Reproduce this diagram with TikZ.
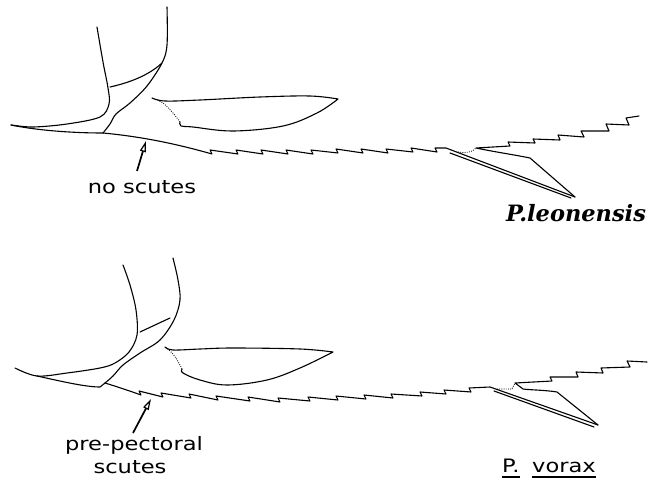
\documentclass[tikz,border=0pt]{standalone}
\usepackage{fontspec}
\newfontfamily\labelfont[FakeStretch=1.22]{DejaVu Sans}
\newfontfamily\speciesfont{DejaVu Serif}
\usetikzlibrary{arrows.meta}
\begin{document}
\begin{tikzpicture}[x=1pt,y=-1pt,
  outline/.style={line width=1.1pt,line join=round,line cap=round},
  finbase/.style={line width=0.8pt,dash pattern=on 0.9pt off 1.3pt},
  labeltext/.style={font=\labelfont\fontsize{18.5}{23}\selectfont,inner sep=0pt},
  speciestext/.style={font=\speciesfont\bfseries\itshape\fontsize{22.5}{26}\selectfont,inner sep=0pt},
  pointer/.style={line width=1.7pt,-{Triangle[open,length=11pt,width=6pt,line width=1.2pt]}},
  underbar/.style={line width=1.4pt}]
\useasboundingbox (0,0) rectangle (660,481);

% ---------------- upper fish: P. leonensis ----------------
% head contour and upper edge of the snout
\draw[outline] plot[smooth,tension=0.55] coordinates
  {(97,27) (103,62) (108,88) (109,104) (100,117) (67,124) (33,127) (11,125)};
% lower edge of the snout
\draw[outline] (11,125) .. controls (35,130) and (70,133) .. (103,133);
% gill cover
\draw[outline] plot[smooth,tension=0.55] coordinates
  {(167,7) (167,45) (162,63) (147,86) (130,103) (116,114) (110,124) (103,133)};
\draw[outline] (110,87) .. controls (128,83) and (148,76) .. (162,63);
% pectoral fin
\draw[outline] plot[smooth,tension=0.6] coordinates
  {(180,122) (181,126) (193,127) (233,131) (283,126) (317,113) (338,99)}
  -- plot[smooth,tension=0.6] coordinates
  {(338,99) (310,96) (260,97) (200,100) (165,101) (152,98)};
\draw[finbase] plot[smooth] coordinates {(180,122) (173,113) (163,103) (152,98)};
% belly with a row of small scutes, running into the pelvic spine
\draw[outline] (103,133) .. controls (135,136) and (170,142) .. (212,154)
  -- ++(-2,-4) -- (238,154) -- ++(-2,-4) -- (263,154) -- ++(-2,-4)
  -- (288,154) -- ++(-2,-4) -- (313,154) -- ++(-2,-4) -- (338,153) -- ++(-2,-4)
  -- (363,153) -- ++(-2,-4) -- (388,153) -- ++(-2,-4) -- (413,152) -- ++(-2,-4)
  -- (437,152) -- ++(-2,-4) -- (446,148) -- (575,197);
\draw[outline] (450,153) -- (571,198);
% pelvic fin edge and the tail part of the belly
\draw[outline] (575,197) -- (530,158) .. controls (510,154) and (495,152) .. (476,148)
  -- (510,146) -- ++(-2,-4) -- (535,143) -- ++(-2,-4) -- (560,140) -- ++(-2,-5)
  -- (584,137) -- ++(-3,-6) -- (609,131) -- ++(-3,-7) -- (629,125) -- ++(-3,-7)
  -- (639,116);
\draw[finbase] (458,152) .. controls (465,153) and (472,153) .. (476,148);

\node[labeltext,anchor=base] (noscutes) at (142,193) {no scutes};
\coordinate (noscutes-tail) at (137,171);
\coordinate (noscutes-tip) at (146,141);
\draw[pointer] (noscutes-tail) -- (noscutes-tip);
\node[speciestext,anchor=base] (leonensis) at (576,221) {P.leonensis};

% ---------------- lower fish: P. vorax ----------------
\draw[outline] plot[smooth,tension=0.55] coordinates
  {(123,265) (130,285) (136,310) (137,335) (129,352) (115,363) (100,368) (67,373) (37,376) (15,368)};
\draw[outline] (37,376) .. controls (60,381) and (85,387) .. (100,387) -- (105,383);
\draw[outline] plot[smooth,tension=0.55] coordinates
  {(173,258) (178,280) (180,300) (174,320) (160,340) (140,353) (123,365) (113,376) (105,383)};
\draw[outline] (140,332) -- (170,318);
% pectoral fin
\draw[outline] plot[smooth,tension=0.6] coordinates
  {(182,369) (183,373) (200,380) (227,385) (267,380) (300,368) (333,352)}
  -- plot[smooth,tension=0.6] coordinates
  {(333,352) (300,349) (233,348) (200,349) (173,350) (165,347)};
\draw[finbase] plot[smooth] coordinates {(182,369) (176,358) (170,351) (165,347)};
% belly with pre-pectoral and post-pectoral scutes
\draw[outline] (105,383) .. controls (118,387) and (130,391) .. (141,395)
  -- ++(-2,-4) -- (163,397) -- ++(-2,-4) -- (191,398) -- ++(-2,-4)
  -- (218,400) -- ++(-2,-4) -- (250,401) -- ++(-2,-4) -- (280,402) -- ++(-2,-4)
  -- (310,401) -- ++(-2,-4) -- (338,400) -- ++(-2,-4) -- (366,399) -- ++(-2,-4)
  -- (393,398) -- ++(-2,-4) -- (422,396) -- ++(-2,-4) -- (446,394) -- ++(-2,-4)
  -- (471,392) -- ++(-2,-4) -- (490,387) -- (598,425);
\draw[outline] (494,391) -- (594,427);
\draw[outline] (598,425) -- (557,392) .. controls (545,390) and (530,390) .. (523,389) -- (515,383)
  -- (552,381) -- ++(-2,-4) -- (578,377) -- ++(-2,-5) -- (603,373) -- ++(-2,-5)
  -- (630,367) -- ++(-3,-6) -- (647,362);
\draw[finbase] (497,389) -- (512,389) -- (515,383);

\node[labeltext,anchor=base] (prepectoral) at (134,450) {pre-pectoral};
\node[labeltext,anchor=base] (prepectoral-scutes) at (130,473) {scutes};
\coordinate (prepectoral-tail) at (133,433);
\coordinate (prepectoral-tip) at (151,399);
\draw[pointer] (prepectoral-tail) -- (prepectoral-tip);

\node[labeltext,anchor=base west] (vorax-genus) at (502,472) {P.};
\node[labeltext,anchor=base west] (vorax-species) at (532,472) {vorax};
\draw[underbar] ([yshift=-5pt]vorax-genus.base west) -- ([yshift=-5pt]vorax-genus.base east);
\draw[underbar] ([yshift=-5pt]vorax-species.base west) -- ([yshift=-5pt]vorax-species.base east);
\end{tikzpicture}
\end{document}
